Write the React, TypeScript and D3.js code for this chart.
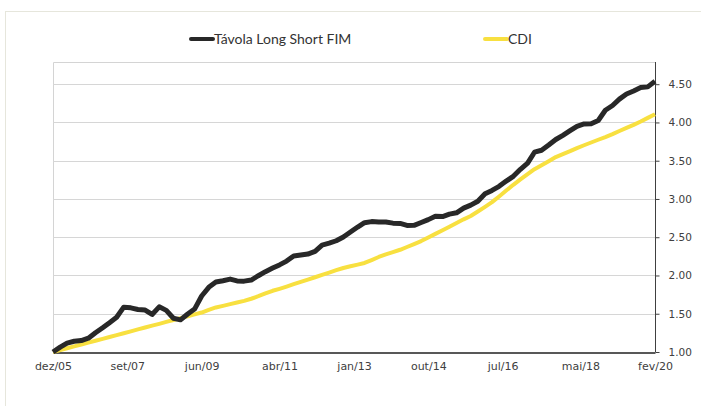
import React, { useRef, useEffect } from "react";
import * as d3 from "d3";

// bi-monthly readings, starting dez/05
const startMonth = "2005-12";
const stepMonths = 2;

const tavola = [
  1.0, 1.064, 1.117, 1.141, 1.149, 1.18, 1.251, 1.317, 1.383, 1.454,
  1.586, 1.577, 1.556, 1.548, 1.491, 1.59, 1.544, 1.441, 1.42, 1.496,
  1.561, 1.732, 1.845, 1.914, 1.932, 1.953, 1.929, 1.926, 1.94, 1.997,
  2.05, 2.097, 2.138, 2.188, 2.255, 2.267, 2.28, 2.316, 2.397, 2.422,
  2.454, 2.503, 2.568, 2.633, 2.69, 2.704, 2.698, 2.7, 2.684, 2.68,
  2.654, 2.655, 2.692, 2.73, 2.775, 2.77, 2.802, 2.819, 2.88, 2.919,
  2.97, 3.068, 3.112, 3.165, 3.234, 3.296, 3.388, 3.469, 3.611, 3.637,
  3.705, 3.777, 3.832, 3.893, 3.95, 3.98, 3.983, 4.026, 4.159, 4.222,
  4.305, 4.372, 4.411, 4.456, 4.465, 4.537,
];

const cdi = [
  1.0, 1.025, 1.049, 1.073, 1.098, 1.122, 1.147, 1.172, 1.196, 1.221,
  1.245, 1.27, 1.295, 1.32, 1.345, 1.368, 1.393, 1.418, 1.443, 1.467,
  1.491, 1.516, 1.551, 1.582, 1.603, 1.625, 1.646, 1.668, 1.696, 1.729,
  1.765, 1.8, 1.826, 1.855, 1.886, 1.916, 1.946, 1.977, 2.008, 2.038,
  2.069, 2.098, 2.12, 2.142, 2.164, 2.202, 2.242, 2.276, 2.305, 2.336,
  2.372, 2.411, 2.45, 2.497, 2.544, 2.591, 2.638, 2.687, 2.734, 2.778,
  2.836, 2.897, 2.958, 3.033, 3.11, 3.185, 3.255, 3.324, 3.389, 3.441,
  3.494, 3.548, 3.586, 3.625, 3.665, 3.702, 3.738, 3.774, 3.809, 3.847,
  3.888, 3.928, 3.969, 4.013, 4.06, 4.107,
];

const xTickDates = ["2005-12", "2007-09", "2009-06", "2011-04", "2013-01", "2014-10", "2016-07", "2018-05", "2020-02"];
const xTickLabels = ["dez/05", "set/07", "jun/09", "abr/11", "jan/13", "out/14", "jul/16", "mai/18", "fev/20"];
const yTicks = [1.0, 1.5, 2.0, 2.5, 3.0, 3.5, 4.0, 4.5];

const seriesNames = ["Távola Long Short FIM", "CDI"];
const seriesColors = ["#282828", "#f8e040"];

const width = 701;
const height = 406;
const margin = { top: 62, right: 46, bottom: 54, left: 53 };

function App() {
  const svgRef = useRef(null);

  useEffect(() => {
    const svg = d3.select(svgRef.current);
    svg.selectAll("*").remove();

    const parse = d3.timeParse("%Y-%m");
    const start = parse(startMonth);
    const dates = tavola.map((_, i) => d3.timeMonth.offset(start, i * stepMonths));

    const x = d3
      .scaleTime()
      .domain([start, parse("2020-02")])
      .range([margin.left, width - margin.right]);
    const y = d3
      .scaleLinear()
      .domain([1, 4.79])
      .range([height - margin.bottom, margin.top]);

    // outer frame
    svg
      .append("rect")
      .attr("x", 5.5)
      .attr("y", 11.5)
      .attr("width", 720)
      .attr("height", 420)
      .attr("fill", "#fff")
      .attr("stroke", "#e6e6dc");

    // plot border (top and left)
    svg
      .append("path")
      .attr("d", `M${margin.left + 0.5},${height - margin.bottom}V${margin.top + 0.5}H${width - margin.right}`)
      .attr("fill", "none")
      .attr("stroke", "#d4d4d4");

    // grid lines
    svg
      .append("g")
      .selectAll("line")
      .data(yTicks.slice(1))
      .join("line")
      .attr("x1", margin.left)
      .attr("x2", width - margin.right)
      .attr("y1", (d) => Math.round(y(d)) + 0.5)
      .attr("y2", (d) => Math.round(y(d)) + 0.5)
      .attr("stroke", "#d6d6d6");

    // right axis
    const yAxis = svg
      .append("g")
      .attr("transform", `translate(${width - margin.right + 0.5},0)`)
      .call(
        d3
          .axisRight(y)
          .tickValues(yTicks)
          .tickSize(4)
          .tickPadding(9)
          .tickFormat(d3.format(".2f")),
      );
    yAxis.select(".domain").attr("stroke", "#404040").attr("d", `M0,${margin.top}V${height - margin.bottom}`);
    yAxis.selectAll(".tick line").attr("stroke", "#404040");
    yAxis
      .selectAll("text")
      .attr("font-family", "DejaVu Sans")
      .attr("font-size", 10.5)
      .attr("fill", "#404040");

    // bottom axis
    const xAxis = svg
      .append("g")
      .attr("transform", `translate(0,${height - margin.bottom + 0.5})`)
      .call(
        d3
          .axisBottom(x)
          .tickValues(xTickDates.map(parse))
          .tickSize(0)
          .tickPadding(10)
          .tickFormat((d, i) => xTickLabels[i]),
      );
    xAxis.select(".domain").attr("stroke", "#202020").attr("stroke-width", 1.5);
    xAxis
      .selectAll("text")
      .attr("font-family", "DejaVu Sans")
      .attr("font-size", 11)
      .attr("fill", "#404040");

    const line = d3
      .line()
      .x((d) => x(d[0]))
      .y((d) => y(d[1]));

    // CDI first, fund on top
    svg
      .append("path")
      .datum(dates.map((d, i) => [d, cdi[i]]))
      .attr("fill", "none")
      .attr("stroke", seriesColors[1])
      .attr("stroke-width", 4)
      .attr("stroke-linejoin", "round")
      .attr("d", line);

    svg
      .append("path")
      .datum(dates.map((d, i) => [d, tavola[i]]))
      .attr("fill", "none")
      .attr("stroke", seriesColors[0])
      .attr("stroke-width", 5)
      .attr("stroke-linejoin", "round")
      .attr("d", line);

    // legend
    const legendX = [191, 485];
    const legend = svg
      .append("g")
      .selectAll("g")
      .data(seriesNames)
      .join("g")
      .attr("transform", (d, i) => `translate(${legendX[i]},39)`);
    legend
      .append("line")
      .attr("x1", 0)
      .attr("x2", 22)
      .attr("stroke", (d, i) => seriesColors[i])
      .attr("stroke-width", 4)
      .attr("stroke-linecap", "round");
    legend
      .append("text")
      .attr("x", 23)
      .attr("dy", "0.35em")
      .attr("font-family", "Lato")
      .attr("font-size", 14)
      .attr("fill", "#333")
      .text((d) => d);
  }, []);

  return (
    <div>
      <svg
        ref={svgRef}
        width={width}
        height={height}
        style={{ position: "absolute", left: 0, top: 0 }}
      />
    </div>
  );
}

export default App;
